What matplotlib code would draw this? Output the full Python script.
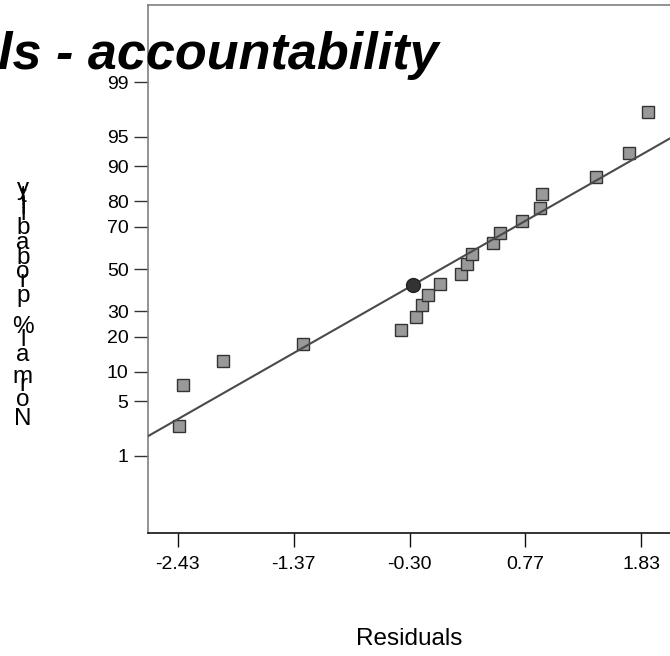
import numpy as np
import matplotlib
matplotlib.use("Agg")
import matplotlib.pyplot as plt
from matplotlib.font_manager import FontProperties, findfont
from matplotlib.ft2font import FT2Font
from statistics import NormalDist

plt.rcParams['font.family'] = ['Liberation Sans', 'DejaVu Sans']

# residuals (sorted) and their normal % probability
residuals = [-2.421, -2.384, -2.014, -1.278, -0.378, -0.237, -0.185, -0.127, -0.022, 0.174,
             0.232, 0.275, 0.465, 0.532, 0.737, 0.903, 0.918, 1.415, 1.718, 1.895]
probability = [2.5, 7.5, 12.5, 17.5, 22.5, 27.5, 32.5, 37.5, 42.5, 47.5,
               52.5, 57.5, 62.5, 67.5, 72.5, 77.5, 82.5, 87.5, 92.5, 97.5]

# highlighted run
sel_residual = -0.267
sel_probability = 42.0

# reference normal line
fit_mean = -0.01
fit_sd = 1.295

x_ticks = [-2.43, -1.365, -0.30, 0.765, 1.83]
x_ticklabels = ['-2.43', '-1.37', '-0.30', '0.77', '1.83']
y_ticks = [1, 5, 10, 20, 30, 50, 70, 80, 90, 95, 99]

title = 'ls - accountability'
ylabel = 'Normal % probability'
xlabel = 'Residuals'

nd = NormalDist()
def z(p):
    return np.array([nd.inv_cdf(v / 100.0) for v in np.atleast_1d(p)])

W, H = 670, 656
fig = plt.figure(figsize=(W / 100, H / 100), dpi=100)
ax = fig.add_axes([148 / W, (H - 533.3) / H, 523 / W, 528.6 / H])

ax.plot(residuals, z(probability), 's', ms=8.6, mfc='#999999', mec='#333333',
        mew=1.0, zorder=2, clip_on=False)
xl = np.array([-2.705, 2.105])
ax.plot(xl, (xl - fit_mean) / fit_sd, color='#4a4a4a', lw=1.5, zorder=3)
ax.plot([sel_residual], z(sel_probability), 'o', ms=10, mfc='#333333',
        mec='#222222', mew=1.0, zorder=4)

ax.set_xlim(-2.705, 2.105)
ax.set_ylim(z(0.05)[0], z(99.95)[0])
ax.set_xticks(x_ticks)
ax.set_xticklabels(x_ticklabels)
ax.set_yticks(z(y_ticks))
ax.set_yticklabels([str(t) for t in y_ticks])
ax.tick_params(axis='x', direction='out', length=10, width=1, color='#111111',
               labelsize=14, pad=6)
ax.tick_params(axis='y', direction='out', length=10, width=1, color='#333333',
               labelsize=14, pad=4)

for side in ['left', 'top']:
    ax.spines[side].set_color('#808080')
    ax.spines[side].set_linewidth(1.2)
ax.spines['bottom'].set_color('#111111')
ax.spines['bottom'].set_linewidth(1.2)
ax.spines['right'].set_visible(False)

ax.set_xlabel(xlabel, fontsize=17.5)
ax.xaxis.set_label_coords(0.5, -0.18)

# title, bold italic
fig.text(-2 / W, (H - 69) / H, title, fontsize=37.5, fontweight='bold',
         fontstyle='italic', ha='left', va='baseline')

# y label: upright glyphs stacked upward along the text advance
fp = FontProperties(family='Liberation Sans', size=17)
ft = FT2Font(findfont(fp))
ft.set_size(19, 100)
y0 = 425.0
for ch in ylabel:
    fig.text(23 / W, (H - y0) / H, ch, fontsize=17.5, ha='center', va='baseline')
    g = ft.load_char(ord(ch))
    y0 -= g.linearHoriAdvance / 65536.0

fig.savefig('out.png', dpi=100)
